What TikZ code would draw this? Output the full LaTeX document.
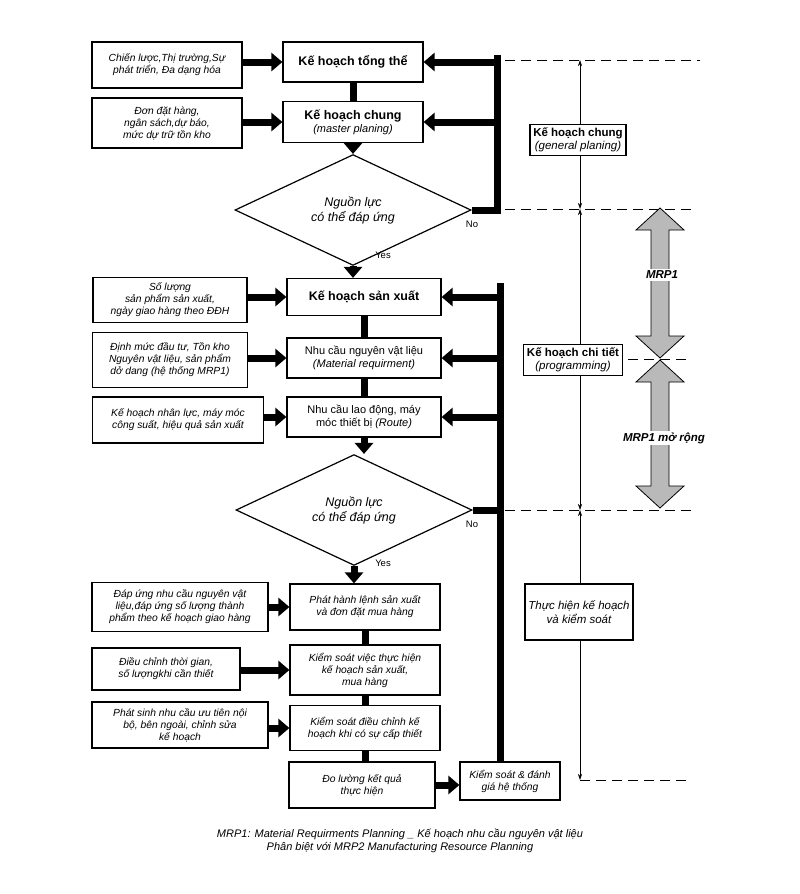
\documentclass[tikz,border=0pt]{standalone}
\usepackage{fontspec}
\setmainfont{Liberation Sans}
\usetikzlibrary{shapes.geometric,arrows.meta,positioning}

% fat grey double arrow: x centre, top y, bottom y
\newcommand{\mrpArrow}[3]{%
  \draw[fill=gray!55,line width=0.8pt]
    (#1,#2) -- (#1+24,#2+22) -- (#1+9,#2+22) -- (#1+9,#3-22) -- (#1+24,#3-22)
    -- (#1,#3) -- (#1-24,#3-22) -- (#1-9,#3-22) -- (#1-9,#2+22) -- (#1-24,#2+22) -- cycle;}

\begin{document}
\begin{tikzpicture}[x=1pt,y=-1pt,
    box/.style={draw,line width=1.2pt,align=center,inner sep=2pt,font=\fontsize{10.3}{12}\selectfont\itshape},
    plan/.style={draw,line width=1.2pt,align=center,inner sep=2pt,font=\fontsize{11}{13}\selectfont},
    cond/.style={draw,diamond,line width=1.2pt,minimum width=236pt,minimum height=74pt,inner sep=0pt,align=center,
      font=\fontsize{12.5}{15}\selectfont\itshape},
    phase/.style={draw,line width=1.2pt,align=center,fill=white,font=\fontsize{11.5}{13.5}\selectfont},
    fat/.style={line width=7pt,-{Triangle[width=18pt,length=11pt]}},
    bar/.style={line width=7pt},
    dim/.style={line width=0.6pt,-{Stealth[length=6pt,width=4pt]}},
    sep/.style={dashed,dash pattern=on 10pt off 6pt,line width=0.7pt},
    lbl/.style={font=\fontsize{9.5}{11}\selectfont}]

\useasboundingbox (0,0) rectangle (800,894);

% main flow
\node[plan,minimum width=140pt,minimum height=40pt,font=\fontsize{12.5}{14}\selectfont\bfseries] (k1) at (353,62) {Kế hoạch tổng thể};
\node[plan,minimum width=140pt,minimum height=41pt] (k2) at (353,122) {\textbf{\fontsize{12.5}{14}\selectfont Kế hoạch chung}\\\textit{(master planing)}};
\node[cond] (d1) at (353,210) {Nguồn lực\\có thể đáp ứng};
\node[plan,minimum width=154pt,minimum height=37pt,font=\fontsize{12.5}{14}\selectfont\bfseries] (k3) at (364,297) {Kế hoạch sản xuất};
\node[plan,minimum width=154pt,minimum height=40pt] (k4) at (364,358) {Nhu cầu nguyên vật liệu\\\textit{(Material requirment)}};
\node[plan,minimum width=154pt,minimum height=40pt] (k5) at (364,417) {Nhu cầu lao động, máy\\móc thiết bị \textit{(Route)}};
\node[cond] (d2) at (354,510) {Nguồn lực\\có thể đáp ứng};
\node[box,minimum width=150pt,minimum height=46pt] (k6) at (365,607) {Phát hành lệnh sản xuất\\và đơn đặt mua hàng};
\node[box,minimum width=150pt,minimum height=50pt] (k7) at (365,670) {Kiểm soát việc thực hiện\\kế hoạch sản xuất,\\mua hàng};
\node[box,minimum width=150pt,minimum height=45pt] (k8) at (365,728) {Kiểm soát điều chỉnh kế\\hoạch khi có sự cấp thiết};
\node[box,minimum width=146pt,minimum height=46pt] (k9) at (362,785) {Đo lường kết quả\\thực hiện};
\node[box,minimum width=100pt,minimum height=38pt] (k10) at (510,781) {Kiểm soát \& đánh\\giá hệ thống};

% inputs
\node[box,minimum width=150pt,minimum height=46pt] (i1) at (167,65) {Chiến lược,Thị trường,Sự\\phát triển, Đa dạng hóa};
\node[box,minimum width=150pt,minimum height=50pt] (i2) at (167,123) {Đơn đặt hàng,\\ngân sách,dự báo,\\mức dự trữ tồn kho};
\node[box,minimum width=154pt,minimum height=45pt] (i3) at (170,300) {Số lượng\\sản phẩm sản xuất,\\ngày giao hàng theo ĐĐH};
\node[box,minimum width=155pt,minimum height=55pt] (i4) at (170,360) {Định mức đầu tư, Tồn kho\\Nguyên vật liệu, sản phẩm\\dở dang (hệ thống MRP1)};
\node[box,minimum width=171pt,minimum height=46pt] (i5) at (178,420) {Kế hoạch nhân lực, máy móc\\công suất, hiệu quả sản xuất};
\node[box,minimum width=176pt,minimum height=49pt] (i6) at (180,607) {Đáp ứng nhu cầu nguyên vật\\liệu,đáp ứng số lượng thành\\phẩm theo kế hoạch giao hàng};
\node[box,minimum width=148pt,minimum height=42pt] (i7) at (166,669) {Điều chỉnh thời gian,\\số lượngkhi cần thiết};
\node[box,minimum width=176pt,minimum height=46pt] (i8) at (180,725) {Phát sinh nhu cầu ưu tiên nội\\bộ, bên ngoài, chỉnh sửa\\kế hoạch};

\foreach \a/\b in {i1/k1,i2/k2,i3/k3,i4/k4,i5/k5,i6/k6,i7/k7,i8/k8}
  \draw[fat] (\b.west -| \a.east) -- (\b.west);

\foreach \a/\b in {k1/k2,k3/k4,k4/k5,k6/k7,k7/k8,k8/k9}
  \draw[bar] (\a.south) -- (\a.south |- \b.north);
\foreach \a/\b in {k2/d1,k5/d2}
  \draw[fat] (\a.south) -- (\a.south |- \b.north);
\foreach \a/\b in {d1/k3,d2/k6}
  \draw[fat] (\a.south) -- (\a.south |- \b.north);
\draw[fat] (k9.east) -- (k9.east -| k10.west);

% feedback loops
\coordinate (fb1) at (497,58);
\coordinate (fb2) at (500,286);
\draw[bar] (d1.east) -| (fb1) -- ++(-3.5,0);
\draw[fat] (fb1 |- k1.east) -- (k1.east);
\draw[fat] (fb1 |- k2.east) -- (k2.east);
\draw[bar] (d2.east) -- (fb2 |- d2.east);
\draw[bar] (fb2 |- k10.north) -- (fb2) -- ++(-3.5,0);
\draw[fat] (fb2 |- k3.east) -- (k3.east);
\draw[fat] (fb2 |- k4.east) -- (k4.east);
\draw[fat] (fb2 |- k5.east) -- (k5.east);

\node[lbl] (no1) at (472,224) {No};
\node[lbl] (yes1) at (383,255) {Yes};
\node[lbl] (no2) at (472,524) {No};
\node[lbl] (yes2) at (383,563) {Yes};

% phases
\coordinate (s1) at (580,60);
\coordinate (s2) at (580,209);
\coordinate (s3) at (580,510);
\coordinate (s4) at (580,780);
\draw[sep] (505,60) -- (700,60);
\draw[sep] (505,209) -- (692,209);
\draw[sep] (612,359) -- (692,359);
\draw[sep] (505,510) -- (692,510);
\draw[sep] (s4) -- (692,780);

\node[phase] (p1) at (578,140) {\textbf{Kế hoạch chung}\\\textit{(general planing)}};
\node[phase] (p2) at (573,360) {\textbf{Kế hoạch chi tiết}\\\textit{(programming)}};
\node[phase,minimum height=56pt,font=\fontsize{11.5}{13.5}\selectfont\itshape] (p3) at (579,612) {Thực hiện kế hoạch\\và kiểm soát};
\draw[dim] (p1.north -| s1) -- (s1);
\draw[dim] (p1.south -| s1) -- (s2);
\draw[dim] (p2.north -| s2) -- (s2);
\draw[dim] (p2.south -| s2) -- (s3);
\draw[dim] (p3.north -| s3) -- (s3);
\draw[dim] (p3.south -| s3) -- (s4);

% MRP arrows
\mrpArrow{660}{208}{358}
\mrpArrow{660}{360}{508}
\node[fill=white,inner sep=2pt,font=\fontsize{11.5}{13}\selectfont\bfseries\itshape] (m1) at (662,275) {MRP1};
\node[fill=white,inner sep=2pt,font=\fontsize{11.5}{13}\selectfont\bfseries\itshape] (m2) at (664,438) {MRP1 mở rộng};

% caption
\node[font=\fontsize{11}{13}\selectfont\itshape,align=center] (cap) at (400,841)
  {MRP1: Material Requirments Planning \_ Kế hoạch nhu cầu nguyên vật liệu\\Phân biệt với MRP2 Manufacturing Resource Planning};
\end{tikzpicture}
\end{document}
